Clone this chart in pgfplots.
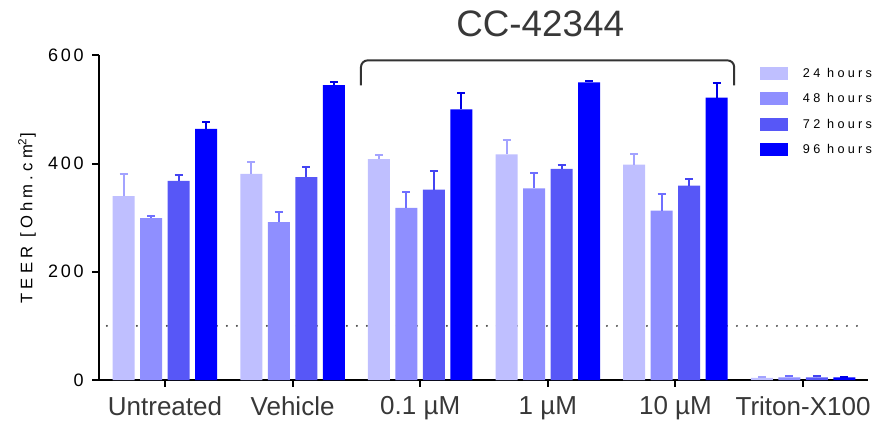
\documentclass[border=0pt]{standalone}
\usepackage{fontspec}
\setmainfont{Liberation Sans}
\newfontfamily\spacedA[LetterSpace=15]{Liberation Sans}
\newfontfamily\spacedB[LetterSpace=26]{Liberation Sans}
\newfontfamily\spacedC[LetterSpace=25]{Liberation Sans}
\usepackage{pgfplots}
\usepackage{pgfplotstable}
\pgfplotsset{compat=1.18}
\definecolor{cA}{HTML}{BFBFFF}
\definecolor{cB}{HTML}{8F8FFF}
\definecolor{cC}{HTML}{5757F7}
\definecolor{cD}{HTML}{0000FF}
\definecolor{eA}{HTML}{A3A3FF}
\definecolor{eB}{HTML}{6F6FFF}
\definecolor{eC}{HTML}{4444F2}
\definecolor{eD}{HTML}{0000E6}
\definecolor{txt}{HTML}{383838}

\pgfplotstableread{
x y e
0 340 40
1 381 21
2 408 8
3 417 27
4 398 19
5 4 2
}\tA
\pgfplotstableread{
x y e
0 299 4
1 292 18
2 318 30
3 354 29
4 313 30
5 5 2
}\tB
\pgfplotstableread{
x y e
0 368 11
1 375 18
2 352 35
3 390 8
4 359 12
5 5 2
}\tC
\pgfplotstableread{
x y e
0 464 13
1 545 5
2 500 31
3 550 2
4 522 27
5 5 1
}\tD

\pgfplotsset{
  mybar/.style n args={2}{ybar, bar width=16.5pt, bar shift=0pt, fill=#1, draw=none,
    legend image code/.code={\fill[#1] (0pt,-4.9pt) rectangle (21pt,4.9pt);},
    error bars/.cd, y dir=plus, y explicit,
    error bar style={draw=#2, solid, line width=1.5pt},
    error mark options={draw=#2, rotate=90, mark size=3pt, line width=1.5pt}},
}

\begin{document}
\begin{tikzpicture}
\useasboundingbox (0,0) rectangle (663pt,319.5pt);
\begin{axis}[
  at={(74.25pt,34.5pt)}, anchor=south west,
  scale only axis, width=576.75pt, height=243.5pt,
  xmin=-0.517, xmax=5.509, ymin=0, ymax=600,
  axis lines*=left,
  axis line style={line width=1.5pt, black},
  tick align=outside,
  major tick length=5pt,
  tick style={line width=1.5pt, black},
  xtick={0,1,2,3,4,5},
  xticklabels={Untreated, Vehicle, 0.1 µM, 1 µM, 10 µM, Triton-X100},
  xticklabel style={font=\fontsize{19.5}{23}\selectfont, text=txt, yshift=-4pt},
  ytick={0,200,400,600},
  yticklabels={0,200,400,600},
  yticklabel style={font=\spacedA\fontsize{13.5}{16}\selectfont, text=black, xshift=-3pt},
  ylabel={TEER [Ohm.cm\textsuperscript{2}]},
  ylabel style={font=\spacedC\fontsize{12.5}{14}\selectfont, text=black,
    at={(axis description cs:-0.0936,0.498)}, anchor=center},
  clip=false,
  legend style={at={(axis description cs:0.8596,0.966)}, anchor=north west,
    draw=none, fill=none, inner sep=0pt, row sep=9.3pt, column sep=11pt,
    font=\spacedB\fontsize{9.5}{11}\selectfont,
    nodes={inner sep=0pt, text height=7pt, text depth=1pt, anchor=west}},
  legend cell align=left,
]
\addplot[forget plot, color=black!75, line width=1.6pt, dash pattern=on 0pt off 7.5pt, line cap=round]
  coordinates {(-0.455,100) (5.46,100)};
\addplot[mybar={cA}{eA}] table[x expr=\thisrow{x}-0.3233,y=y,y error=e]{\tA};
\addplot[mybar={cB}{eB}] table[x expr=\thisrow{x}-0.1078,y=y,y error=e]{\tB};
\addplot[mybar={cC}{eC}] table[x expr=\thisrow{x}+0.1078,y=y,y error=e]{\tC};
\addplot[mybar={cD}{eD}] table[x expr=\thisrow{x}+0.3233,y=y,y error=e]{\tD};
\legend{24 hours, 48 hours, 72 hours, 96 hours}
\draw[line width=1.5pt, black!80, rounded corners=5pt]
  (axis cs:1.536,544.6) -- (axis cs:1.536,590.7) -- (axis cs:4.46,590.7) -- (axis cs:4.46,544.6);
\node[font=\fontsize{27.6}{32}\selectfont, text=txt, anchor=center] at (axis cs:2.94,658) {CC-42344};
\end{axis}
\end{tikzpicture}
\end{document}
